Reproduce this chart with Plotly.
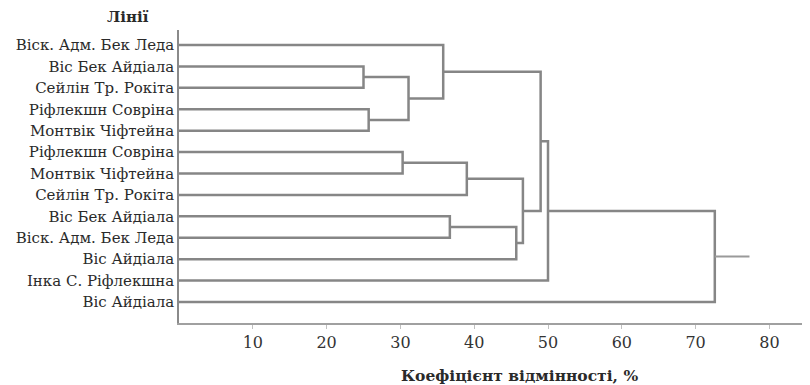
import plotly.graph_objects as go

# Leaf labels (top to bottom)
leaves = [
    "Віск. Адм. Бек Леда",
    "Віс Бек Айдіала",
    "Сейлін Тр. Рокіта",
    "Ріфлекшн Совріна",
    "Монтвік Чіфтейна",
    "Ріфлекшн Совріна",
    "Монтвік Чіфтейна",
    "Сейлін Тр. Рокіта",
    "Віс Бек Айдіала",
    "Віск. Адм. Бек Леда",
    "Віс Айдіала",
    "Інка С. Ріфлекшна",
    "Віс Айдіала",
]

# Merges: (left child, right child, dissimilarity %). Children: "L<i>" leaf, "M<j>" merge
merge_left = ["L1", "L3", "M0", "L0", "L5", "M4", "L8", "M6", "M5", "M3", "M9", "M10"]
merge_right = ["L2", "L4", "M1", "M2", "L6", "L7", "L9", "L10", "M7", "M8", "L11", "L12"]
merge_height = [25.0, 25.7, 31.1, 35.8, 30.3, 39.0, 36.7, 45.7, 46.6, 49.0, 50.0, 72.6]
root_stub = 77.3

x_ticks = [10, 20, 30, 40, 50, 60, 70, 80]
x_title = "Коефіцієнт відмінності, %"
y_title = "Лінії"

LINE = "#868686"
SERIF = "DejaVu Serif"

pos = {}
for i in range(len(leaves)):
    pos["L%d" % i] = (0.0, float(i))

xs, ys = [], []
for j, (a, b, h) in enumerate(zip(merge_left, merge_right, merge_height)):
    xa, ya = pos[a]
    xb, yb = pos[b]
    xs += [xa, h, h, xb, None]
    ys += [ya, ya, yb, yb, None]
    pos["M%d" % j] = (h, (ya + yb) / 2)

xr, yr = pos["M%d" % (len(merge_height) - 1)]

fig = go.Figure()
fig.add_trace(go.Scatter(x=xs, y=ys, mode="lines",
                         line=dict(color=LINE, width=2.5),
                         hoverinfo="skip", showlegend=False))
fig.add_trace(go.Scatter(x=[xr, root_stub], y=[yr, yr], mode="lines",
                         line=dict(color="#9a9a9a", width=2),
                         hoverinfo="skip", showlegend=False))

fig.update_layout(
    width=810, height=385,
    margin=dict(l=171, r=8, t=22, b=70, autoexpand=False),
    paper_bgcolor="white", plot_bgcolor="white",
    font=dict(family=SERIF, color="#2a2a2a"),
    xaxis=dict(range=[0, 85.5], tickvals=x_ticks, ticktext=[str(v) for v in x_ticks],
               showgrid=False, zeroline=False, showline=True, linecolor="#a0a0a0",
               linewidth=1.5, ticks="outside", ticklen=4, tickcolor="#c0c0c0",
               automargin=False,
               tickfont=dict(family=SERIF, size=16, color="#333333")),
    yaxis=dict(range=[12.98, -0.7], tickvals=list(range(len(leaves))), ticktext=leaves,
               showgrid=False, zeroline=False, showline=True, linecolor="#8a8a8a",
               linewidth=1.5, ticks="", automargin=False,
               tickfont=dict(family=SERIF, size=15, color="#2a2a2a")),
    annotations=[
        dict(text="<b>" + y_title + "</b>", xref="paper", yref="paper",
             x=0, y=1, xanchor="right", yanchor="bottom", xshift=-28, yshift=2,
             showarrow=False, font=dict(family=SERIF, size=15, color="#2a2a2a")),
        dict(text="<b>" + x_title + "</b>", xref="paper", yref="paper",
             x=0.54, y=0, xanchor="center", yanchor="middle", yshift=-52,
             showarrow=False, font=dict(family=SERIF, size=15.5, color="#2a2a2a")),
    ],
)

fig.write_html("out.html")
